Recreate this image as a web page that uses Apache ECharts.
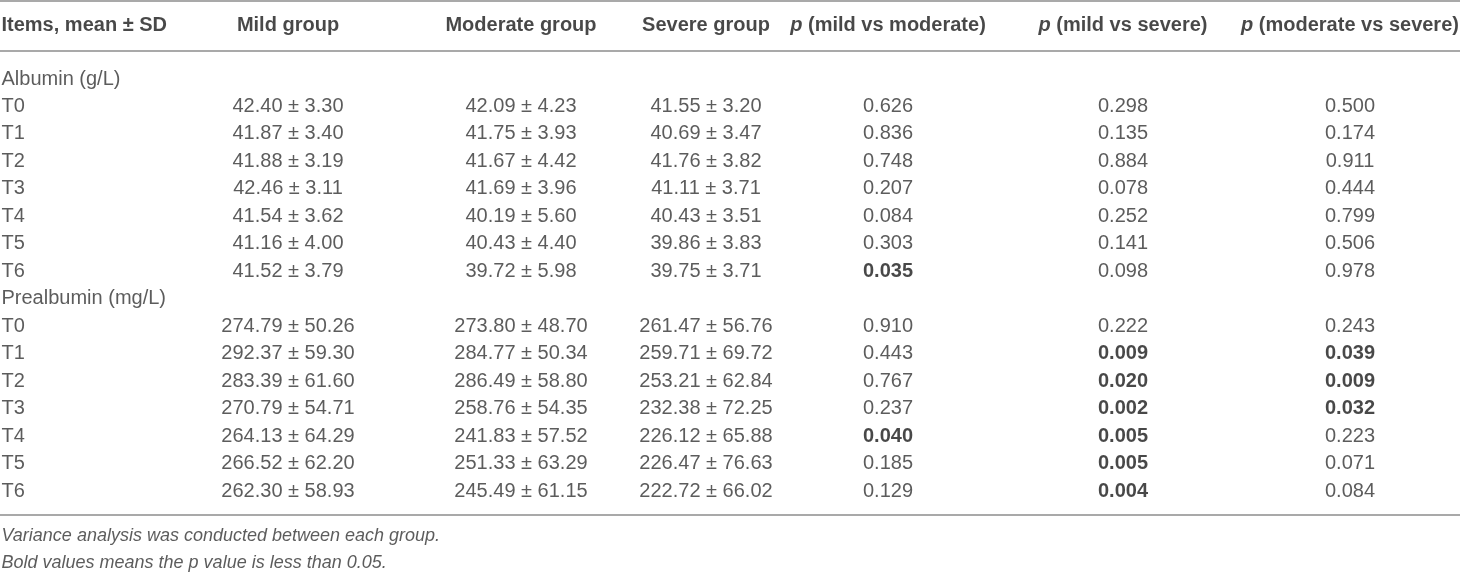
<!DOCTYPE html>
<html lang="en">
<head>
<meta charset="UTF-8">
<title>Albumin and prealbumin by severity group</title>
<script src="https://cdn.jsdelivr.net/npm/echarts@6/dist/echarts.min.js"></script>
<style>
    html, body { margin: 0; padding: 0; background: #fff; }
    #main { width: 1460px; height: 572px; }
</style>
</head>
<body>
<div id="main"></div>
<script type="text/javascript">
    // ---- data ----
    var headers = ['Items, mean ± SD', 'Mild group', 'Moderate group', 'Severe group',
        'p (mild vs moderate)', 'p (mild vs severe)', 'p (moderate vs severe)'];
    var timePoints = ['T0', 'T1', 'T2', 'T3', 'T4', 'T5', 'T6'];

    var albuminTitle = 'Albumin (g/L)';
    var albuminMild = [[42.40, 3.30], [41.87, 3.40], [41.88, 3.19], [42.46, 3.11], [41.54, 3.62], [41.16, 4.00], [41.52, 3.79]];
    var albuminModerate = [[42.09, 4.23], [41.75, 3.93], [41.67, 4.42], [41.69, 3.96], [40.19, 5.60], [40.43, 4.40], [39.72, 5.98]];
    var albuminSevere = [[41.55, 3.20], [40.69, 3.47], [41.76, 3.82], [41.11, 3.71], [40.43, 3.51], [39.86, 3.83], [39.75, 3.71]];
    var albuminPMildMod = [0.626, 0.836, 0.748, 0.207, 0.084, 0.303, 0.035];
    var albuminPMildSev = [0.298, 0.135, 0.884, 0.078, 0.252, 0.141, 0.098];
    var albuminPModSev = [0.500, 0.174, 0.911, 0.444, 0.799, 0.506, 0.978];

    var prealbTitle = 'Prealbumin (mg/L)';
    var prealbMild = [[274.79, 50.26], [292.37, 59.30], [283.39, 61.60], [270.79, 54.71], [264.13, 64.29], [266.52, 62.20], [262.30, 58.93]];
    var prealbModerate = [[273.80, 48.70], [284.77, 50.34], [286.49, 58.80], [258.76, 54.35], [241.83, 57.52], [251.33, 63.29], [245.49, 61.15]];
    var prealbSevere = [[261.47, 56.76], [259.71, 69.72], [253.21, 62.84], [232.38, 72.25], [226.12, 65.88], [226.47, 76.63], [222.72, 66.02]];
    var prealbPMildMod = [0.910, 0.443, 0.767, 0.237, 0.040, 0.185, 0.129];
    var prealbPMildSev = [0.222, 0.009, 0.020, 0.002, 0.005, 0.005, 0.004];
    var prealbPModSev = [0.243, 0.039, 0.009, 0.032, 0.223, 0.071, 0.084];

    var notes = ['Variance analysis was conducted between each group.',
        'Bold values means the p value is less than 0.05.'];
    var pCutoff = 0.05;

    // ---- layout ----
    var colX = [1, 288, 521, 706, 888, 1123, 1350];
    var headerY = 25;
    var firstRowY = 79;
    var rowStep = 27.47;
    var ruleY = [1, 51, 515];
    var noteY = [536, 563];

    var font = '"Liberation Sans", Arial, Helvetica, sans-serif';
    var bodyColor = '#333333';
    var headColor = '#1a1a1a';

    var myChart = echarts.init(document.getElementById('main'));
    var cells = [];

    function cell(x, y, text, opt) {
        opt = opt || {};
        var label = {
            show: true,
            position: opt.left ? 'right' : 'inside',
            distance: 0,
            align: opt.left ? 'left' : 'center',
            verticalAlign: 'middle',
            fontFamily: font,
            fontSize: opt.size || 20,
            fontWeight: opt.bold ? 'bold' : 'normal',
            fontStyle: opt.italic ? 'italic' : 'normal',
            color: opt.color || bodyColor,
            formatter: text
        };
        if (opt.rich) label.rich = opt.rich;
        cells.push({ value: [x, y], label: label });
    }

    function ms(pair) {
        return pair[0].toFixed(2) + ' ± ' + pair[1].toFixed(2);
    }

    // header row
    var headRich = {
        it: { fontFamily: font, fontSize: 20, fontWeight: 'bold', fontStyle: 'italic', color: headColor },
        b: { fontFamily: font, fontSize: 20, fontWeight: 'bold', color: headColor }
    };
    for (var c = 0; c < headers.length; c++) {
        var h = headers[c];
        if (h.indexOf('p (') === 0) {
            cell(colX[c], headerY, '{it|p}{b|' + h.slice(1) + '}', { bold: true, color: headColor, rich: headRich });
        } else {
            cell(colX[c], headerY, h, { bold: true, color: headColor, left: c === 0 });
        }
    }

    var sections = [
        { title: albuminTitle, groups: [albuminMild, albuminModerate, albuminSevere], p: [albuminPMildMod, albuminPMildSev, albuminPModSev] },
        { title: prealbTitle, groups: [prealbMild, prealbModerate, prealbSevere], p: [prealbPMildMod, prealbPMildSev, prealbPModSev] }
    ];

    var row = 0;
    sections.forEach(function (s) {
        cell(colX[0], firstRowY + rowStep * row, s.title, { left: true });
        row++;
        for (var i = 0; i < timePoints.length; i++) {
            var y = firstRowY + rowStep * row;
            cell(colX[0], y, timePoints[i], { left: true });
            for (var g = 0; g < 3; g++) {
                cell(colX[1 + g], y, ms(s.groups[g][i]));
            }
            for (var k = 0; k < 3; k++) {
                var pv = s.p[k][i];
                var sig = pv < pCutoff;
                cell(colX[4 + k], y, pv.toFixed(3), { bold: sig, color: sig ? headColor : bodyColor });
            }
            row++;
        }
    });

    notes.forEach(function (n, i) {
        cell(colX[0], noteY[i], n, { left: true, italic: true, size: 18 });
    });

    var option = {
        animation: false,
        grid: { left: 0, right: 0, top: 0, bottom: 0 },
        xAxis: { type: 'value', min: 0, max: 1460, show: false },
        yAxis: { type: 'value', min: 0, max: 572, inverse: true, show: false },
        series: [{
            type: 'scatter',
            silent: true,
            symbolSize: 1,
            itemStyle: { color: 'rgba(0,0,0,0)' },
            data: cells,
            markLine: {
                silent: true,
                symbol: ['none', 'none'],
                label: { show: false },
                lineStyle: { color: '#a9a9a9', width: 2, type: 'solid' },
                data: ruleY.map(function (v) { return { yAxis: v }; })
            }
        }]
    };

    myChart.setOption(option);
</script>
</body>
</html>
